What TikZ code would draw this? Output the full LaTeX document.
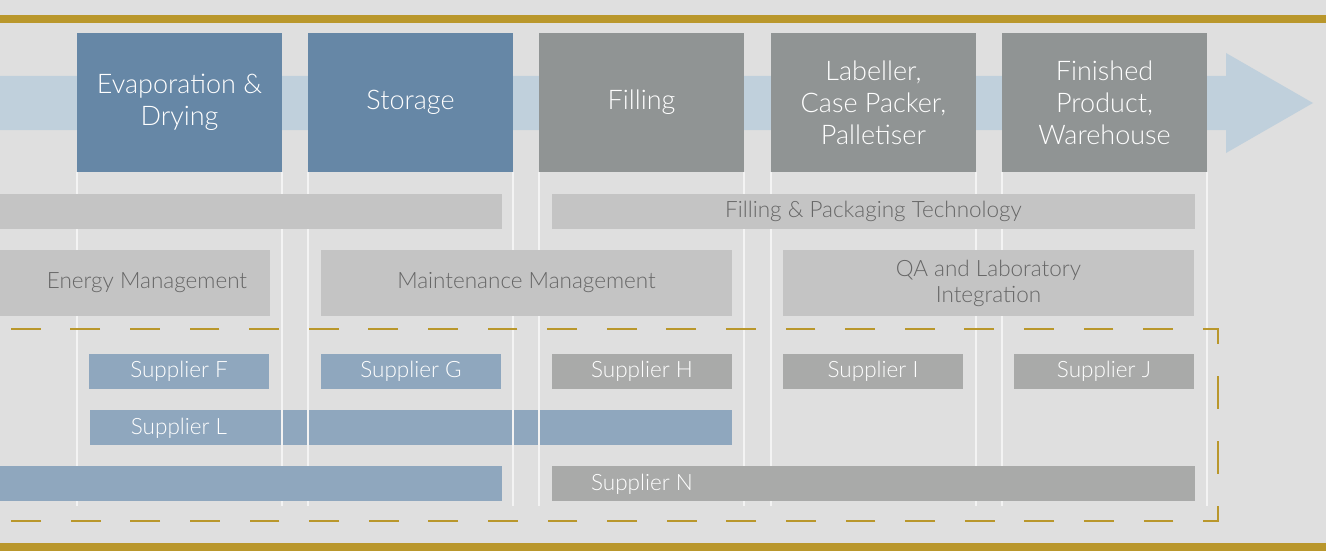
\documentclass[tikz,border=0pt]{standalone}
\usepackage{fontspec}
\setmainfont{Lato}[UprightFont={* Light}]
\definecolor{canvas}{HTML}{DFDFDF}
\definecolor{rulegold}{HTML}{B9972C}
\definecolor{flowband}{HTML}{C0D0DC}
\definecolor{stageblue}{HTML}{6687A6}
\definecolor{stagegrey}{HTML}{909494}
\definecolor{themebar}{HTML}{C4C4C4}
\definecolor{themetext}{HTML}{666666}
\definecolor{supblue}{HTML}{8FA7BE}
\definecolor{supgrey}{HTML}{A9AAA9}
\definecolor{laneline}{HTML}{F3F3F3}
\begin{document}
\begin{tikzpicture}[x=1pt,y=-1pt,
  stage/.style={fill=#1, draw=none, minimum width=205pt, minimum height=139pt,
    inner sep=0pt, align=center, text=white, font=\fontsize{27}{32}\selectfont},
  themebox/.style={fill=themebar, draw=none, inner sep=0pt, align=center,
    text=themetext, font=\fontsize{22.5}{26}\selectfont},
  themelabel/.style={inner sep=0pt, align=center, text=themetext,
    font=\fontsize{22.5}{26}\selectfont},
  supbox/.style={fill=#1, draw=none, minimum width=180pt, minimum height=35pt,
    inner sep=0pt, text=white, font=\fontsize{22.5}{26}\selectfont},
  suplabel/.style={inner sep=0pt, text=white, font=\fontsize{22.5}{26}\selectfont},
  lane/.style={draw=laneline, line width=2pt},
  scopeline/.style={draw=rulegold, line width=2.5pt, dash pattern=on 29.8pt off 29.8pt}
]
\useasboundingbox (0,0) rectangle (1326,551);
\fill[canvas] (0,0) rectangle (1326,551);

% gold rules top and bottom
\fill[rulegold] (0,15) rectangle (1326,23);
\fill[rulegold] (0,543) rectangle (1326,551);

% process flow arrow behind the stages
\fill[flowband] (-5,76) -- (1226,76) -- (1226,53) -- (1313,103)
  -- (1226,153) -- (1226,130) -- (-5,130) -- cycle;

% process stages
\node[stage=stageblue] (evap)  at (179.5,102.5) {Evaporation \&\\Drying};
\node[stage=stageblue] (store) at (410.5,102.5) {Storage};
\node[stage=stagegrey] (fill)  at (641.5,102.5) {Filling};
\node[stage=stagegrey] (label) at (873.5,102.5) {Labeller,\\Case Packer,\\Palletiser};
\node[stage=stagegrey] (whse)  at (1104.5,102.5) {Finished\\Product,\\Warehouse};

% long supplier bar lying under the lane lines
\node[fill=supblue, minimum width=642pt, minimum height=35pt, inner sep=0pt]
  (supL) at (411,427.5) {};
\node[suplabel] (supLtext) at (179,428.5) {Supplier L};

% lane lines under each stage
\foreach \xx in {77,282,308,513,539,744,771,976,1002,1207}
  \draw[lane] (\xx,172) -- (\xx,506);

% cross-stage themes
\node[themebox, minimum width=512pt, minimum height=35pt] (themeA) at (246,211.5) {};
\node[themebox, minimum width=643pt, minimum height=35pt] (pack) at (873.5,211.5)
  {Filling \& Packaging Technology};
\node[themebox, minimum width=280pt, minimum height=66pt] (energy) at (130,283) {};
\node[themelabel] (energytext) at (147,283) {Energy Management};
\node[themebox, minimum width=411pt, minimum height=66pt] (maint) at (526.5,283)
  {Maintenance Management};
\node[themebox, minimum width=411pt, minimum height=66pt] (qa) at (988.5,283)
  {QA and Laboratory\\Integration};

% suppliers per stage
\node[supbox=supblue] (supF) at (179,371.5) {Supplier F};
\node[supbox=supblue] (supG) at (411,371.5) {Supplier G};
\node[supbox=supgrey] (supH) at (642,371.5) {Supplier H};
\node[supbox=supgrey] (supI) at (873,371.5) {Supplier I};
\node[supbox=supgrey] (supJ) at (1104,371.5) {Supplier J};

% bottom supplier row
\node[fill=supblue, minimum width=512pt, minimum height=35pt, inner sep=0pt]
  (supM) at (246,483.5) {};
\node[fill=supgrey, minimum width=643pt, minimum height=35pt, inner sep=0pt]
  (supN) at (873.5,483.5) {};
\node[suplabel] (supNtext) at (642,484.5) {Supplier N};

% dashed supplier scope frame
\coordinate (frameTR) at (1218,329);
\coordinate (frameBR) at (1218,521);
\draw[scopeline] (1218,343.5) -- (frameTR) -- (-60,329);
\draw[scopeline] (1218,506) -- (frameBR) -- (-60,521);
\draw[draw=rulegold, line width=2.5pt, dash pattern=on 32.5pt off 32.5pt]
  (1218,376) -- (1218,474);
\end{tikzpicture}
\end{document}
